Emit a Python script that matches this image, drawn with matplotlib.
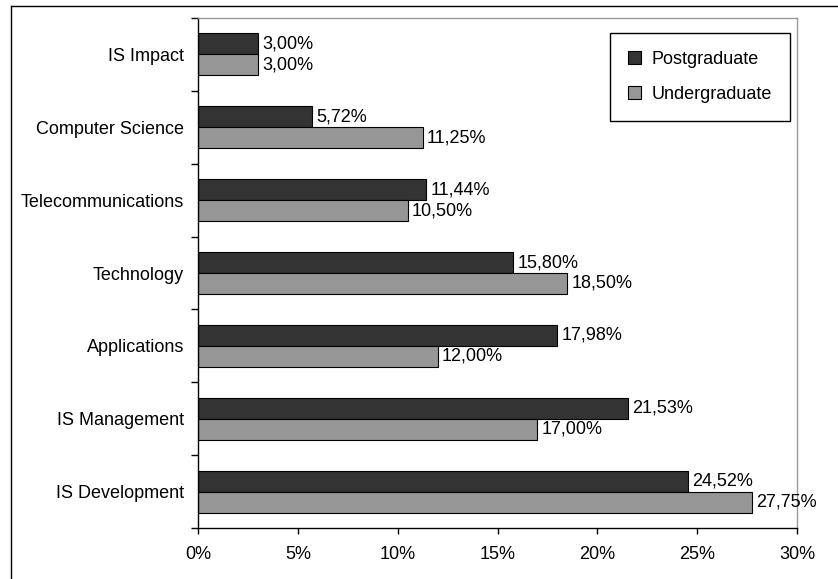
import matplotlib.pyplot as plt
from matplotlib.lines import Line2D
from matplotlib.patches import Patch
import numpy as np

plt.rcParams["font.family"] = ["Liberation Sans", "DejaVu Sans"]

# categories listed bottom to top
categories = [
    "IS Development",
    "IS Management",
    "Applications",
    "Technology",
    "Telecommunications",
    "Computer Science",
    "IS Impact",
]
postgraduate = [24.52, 21.53, 17.98, 15.80, 11.44, 5.72, 3.00]
undergraduate = [27.75, 17.00, 12.00, 18.50, 10.50, 11.25, 3.00]
x_ticks = [0, 5, 10, 15, 20, 25, 30]

dark = "#333333"
light = "#969696"
fs = 13

fig = plt.figure(figsize=(8.38, 5.79), dpi=100)
ax = fig.add_axes([198 / 838, 1 - 528 / 579, 599 / 838, 510 / 579])

# outer chart frame (only top and left edges fall inside the image)
fx, fy = 10.5 / 838, 1 - 5.5 / 579
fig.add_artist(Line2D([fx, 1], [fy, fy], transform=fig.transFigure,
                      color="black", linewidth=1))
fig.add_artist(Line2D([fx, fx], [0, fy], transform=fig.transFigure,
                      color="black", linewidth=1))

y = np.arange(len(categories))
h = 0.288
ax.barh(y + h / 2, postgraduate, height=h, color=dark,
        edgecolor="black", linewidth=0.8)
ax.barh(y - h / 2, undergraduate, height=h, color=light,
        edgecolor="black", linewidth=0.8)

for yi, v in zip(y, postgraduate):
    ax.annotate(f"{v:.2f}%".replace(".", ","), xy=(v, yi + h / 2),
                xytext=(3, 0), textcoords="offset points",
                va="center", ha="left", fontsize=fs)
for yi, v in zip(y, undergraduate):
    ax.annotate(f"{v:.2f}%".replace(".", ","), xy=(v, yi - h / 2),
                xytext=(3, 0), textcoords="offset points",
                va="center", ha="left", fontsize=fs)

ax.set_xlim(0, 30)
ax.set_ylim(-0.5, len(categories) - 0.5)
ax.set_xticks(x_ticks)
ax.set_xticklabels([f"{t}%" for t in x_ticks], fontsize=fs)
ax.set_yticks(y)
ax.set_yticklabels(categories, fontsize=fs)
ax.set_yticks(np.arange(-0.5, len(categories)), minor=True)
ax.tick_params(axis="y", which="major", length=0, pad=10)
ax.tick_params(axis="y", which="minor", length=5, width=1, direction="out")
ax.tick_params(axis="x", which="major", length=4, width=1, direction="out", pad=9)

for side in ["top", "right"]:
    ax.spines[side].set_color("#999999")
    ax.spines[side].set_linewidth(1)
for side in ["left", "bottom"]:
    ax.spines[side].set_color("black")
    ax.spines[side].set_linewidth(1)

handles = [
    Patch(facecolor=dark, edgecolor="black", linewidth=0.8, label="Postgraduate"),
    Patch(facecolor=light, edgecolor="black", linewidth=0.8, label="Undergraduate"),
]
leg = ax.legend(handles=handles, loc="upper right",
                bbox_to_anchor=(790 / 838, 1 - 33 / 579),
                bbox_transform=fig.transFigure, fontsize=fs,
                fancybox=False, framealpha=1, edgecolor="black",
                handlelength=0.7, handleheight=0.7, handletextpad=0.6,
                labelspacing=1.0, borderpad=1.0, borderaxespad=0)
leg.get_frame().set_linewidth(1)

fig.savefig("out.png", dpi=100)
